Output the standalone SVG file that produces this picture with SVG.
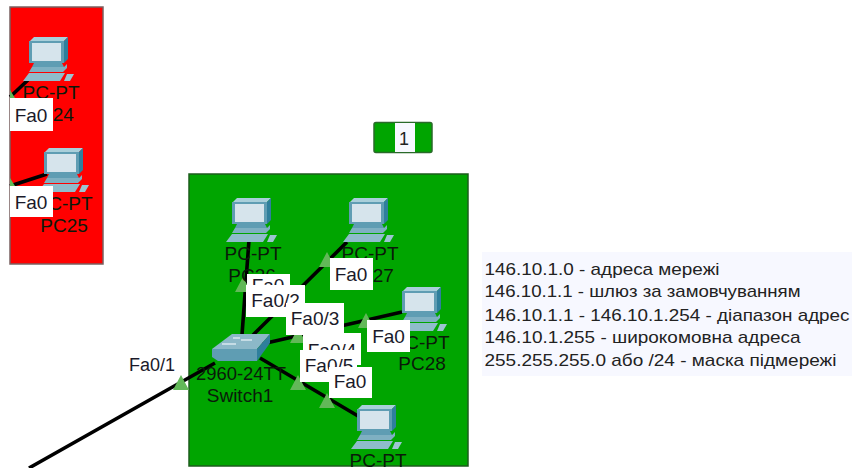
<svg xmlns="http://www.w3.org/2000/svg" xmlns:xlink="http://www.w3.org/1999/xlink" width="852" height="468" viewBox="0 0 852 468">
<style>
text{font-family:"Liberation Sans",Arial,sans-serif}
.nm{font-size:19px;fill:#0a1a0a;text-anchor:middle}
.lb{font-size:19px;fill:#1a1a2a;text-anchor:middle}
.bx{fill:#fff}
.ln{stroke:#000;stroke-width:3.6;fill:none}
.tri{fill:#62b858}
.info{font-size:17px;fill:#222}
</style>
<defs>
<g id="pc">
<path d="M0 4L4 0H38L34 4Z" fill="#a9cfda"/>
<path d="M34 4L38 0V22L34 26Z" fill="#2f7f9c"/>
<rect x="-1" y="4" width="35" height="22" fill="#5f9db3"/>
<rect x="2" y="6" width="29" height="18" fill="#d6e4ec"/>
<path d="M4 26H32L34 30H2Z" fill="#5f9db3"/>
<path d="M2 30H34L37 27V31L33 35H-1Z" fill="#7fb0c2"/>
<path d="M-1 36H35L30 44H-7Z" fill="#8fbccb"/>
<path d="M37 37H44L40 44H34Z" fill="#9cc4d1"/>
</g>
<path id="t" d="M0 0L8 15H-8Z" class="tri"/>
</defs>
<rect width="852" height="468" fill="#fff"/>
<rect x="10" y="7" width="93" height="257" fill="#f00" stroke="#7a6060" stroke-width="1.5"/>
<rect x="189" y="174" width="279" height="292" fill="#00a500" stroke="#1c5c1c" stroke-width="1.5"/>
<g id="cluster-label"><rect x="374" y="122.500" width="58" height="30" rx="2" fill="#00a500" stroke="#2a6a2a" stroke-width="1.5"/><rect x="395" y="123" width="20" height="29" fill="#f7f8ff"/><text x="404" y="145" font-size="18px" fill="#222" text-anchor="middle">1</text></g>
<g id="connectors">
<path class="ln" d="M10 97L28 80M10 186L47 174M249 240L242 335M347 242L253 335M262 344L402 312M260 358L358 416M29 468L215 363"/>
</g>
<g id="ports">
<path class="tri" d="M10 90L15 98H10Z"/><path class="tri" d="M10 178L15 186H10Z"/>
<use href="#t" xlink:href="#t" x="243" y="277"/><use href="#t" xlink:href="#t" x="327" y="252"/>
<use href="#t" xlink:href="#t" x="366" y="313"/><use href="#t" xlink:href="#t" x="298" y="328"/>
<use href="#t" xlink:href="#t" x="298" y="375"/><use href="#t" xlink:href="#t" x="327" y="393"/>
<use href="#t" xlink:href="#t" x="181" y="375"/>
</g>
<g id="pc24"><use href="#pc" xlink:href="#pc" x="30" y="37"/><text class="nm" x="51" y="99">PC-PT</text><text class="nm" x="50" y="121">PC24</text></g>
<g id="pc25"><use href="#pc" xlink:href="#pc" x="45" y="148"/><text class="nm" x="64" y="210">PC-PT</text><text class="nm" x="64" y="232">PC25</text></g>
<g id="pc26"><use href="#pc" xlink:href="#pc" x="233" y="198"/><text class="nm" x="253" y="260">PC-PT</text><text class="nm" x="252" y="282">PC26</text></g>
<g id="pc27"><use href="#pc" xlink:href="#pc" x="350" y="198"/><text class="nm" x="370" y="260">PC-PT</text><text class="nm" x="370" y="282">PC27</text></g>
<g id="pc28"><use href="#pc" xlink:href="#pc" x="403" y="287"/><text class="nm" x="421" y="349">PC-PT</text><text class="nm" x="422" y="370">PC28</text></g>
<g id="pc29"><use href="#pc" xlink:href="#pc" x="358" y="405"/><text class="nm" x="378" y="467">PC-PT</text></g>
<g id="switch1">
<path d="M212 349L232 334H270L257 349Z" fill="#8cb8c8"/>
<path d="M212 349H257V361H218L212 357Z" fill="#5f9db3"/>
<path d="M257 349L270 334V343L257 361Z" fill="#2f7f9c"/>
<path d="M222 344H236M241 340H252M233 338H240" stroke="#d8e8ee" stroke-width="1.500" fill="none"/>
<text class="nm" x="241" y="380" style="font-size:18.400px">2960-24TT</text><text class="nm" x="240" y="402">Switch1</text>
</g>
<g id="labels">
<text class="lb" x="152" y="371" style="font-size:18px">Fa0/1</text>
<rect class="bx" x="247" y="274" width="43" height="30"/><text class="lb" x="268" y="292">Fa0</text>
<rect class="bx" x="10" y="98" width="43" height="33"/><text class="lb" x="31" y="122">Fa0</text>
<rect class="bx" x="10" y="186" width="43" height="31"/><text class="lb" x="31" y="209">Fa0</text>
<rect class="bx" x="330" y="258" width="43" height="32"/><text class="lb" x="351" y="281">Fa0</text>
<rect class="bx" x="246" y="285" width="59" height="32"/><text class="lb" x="275.500" y="307">Fa0/2</text>
<rect class="bx" x="286" y="303" width="58" height="32"/><text class="lb" x="315" y="325">Fa0/3</text>
<rect class="bx" x="367" y="320" width="43" height="32"/><text class="lb" x="388.500" y="343">Fa0</text>
<rect class="bx" x="303" y="333" width="58" height="32"/><text class="lb" x="332" y="357">Fa0/4</text>
<rect class="bx" x="300" y="350" width="57" height="32"/><text class="lb" x="329" y="372">Fa0/5</text>
<rect class="bx" x="329" y="367" width="43" height="31"/><text class="lb" x="350" y="388">Fa0</text>
</g>
<g id="info">
<rect x="482" y="252" width="370" height="124" fill="#f7f8ff"/>
<text class="info" x="484.500" y="275" textLength="235" lengthAdjust="spacingAndGlyphs">146.10.1.0 - адреса мережі</text>
<text class="info" x="484.500" y="297" textLength="316" lengthAdjust="spacingAndGlyphs">146.10.1.1 - шлюз за замовчуванням</text>
<text class="info" x="484.500" y="321" textLength="365" lengthAdjust="spacingAndGlyphs">146.10.1.1 - 146.10.1.254 - діапазон адрес</text>
<text class="info" x="484.500" y="343" textLength="316" lengthAdjust="spacingAndGlyphs">146.10.1.255 - широкомовна адреса</text>
<text class="info" x="484.500" y="366" textLength="352" lengthAdjust="spacingAndGlyphs">255.255.255.0 або /24 - маска підмережі</text>
</g>
</svg>
